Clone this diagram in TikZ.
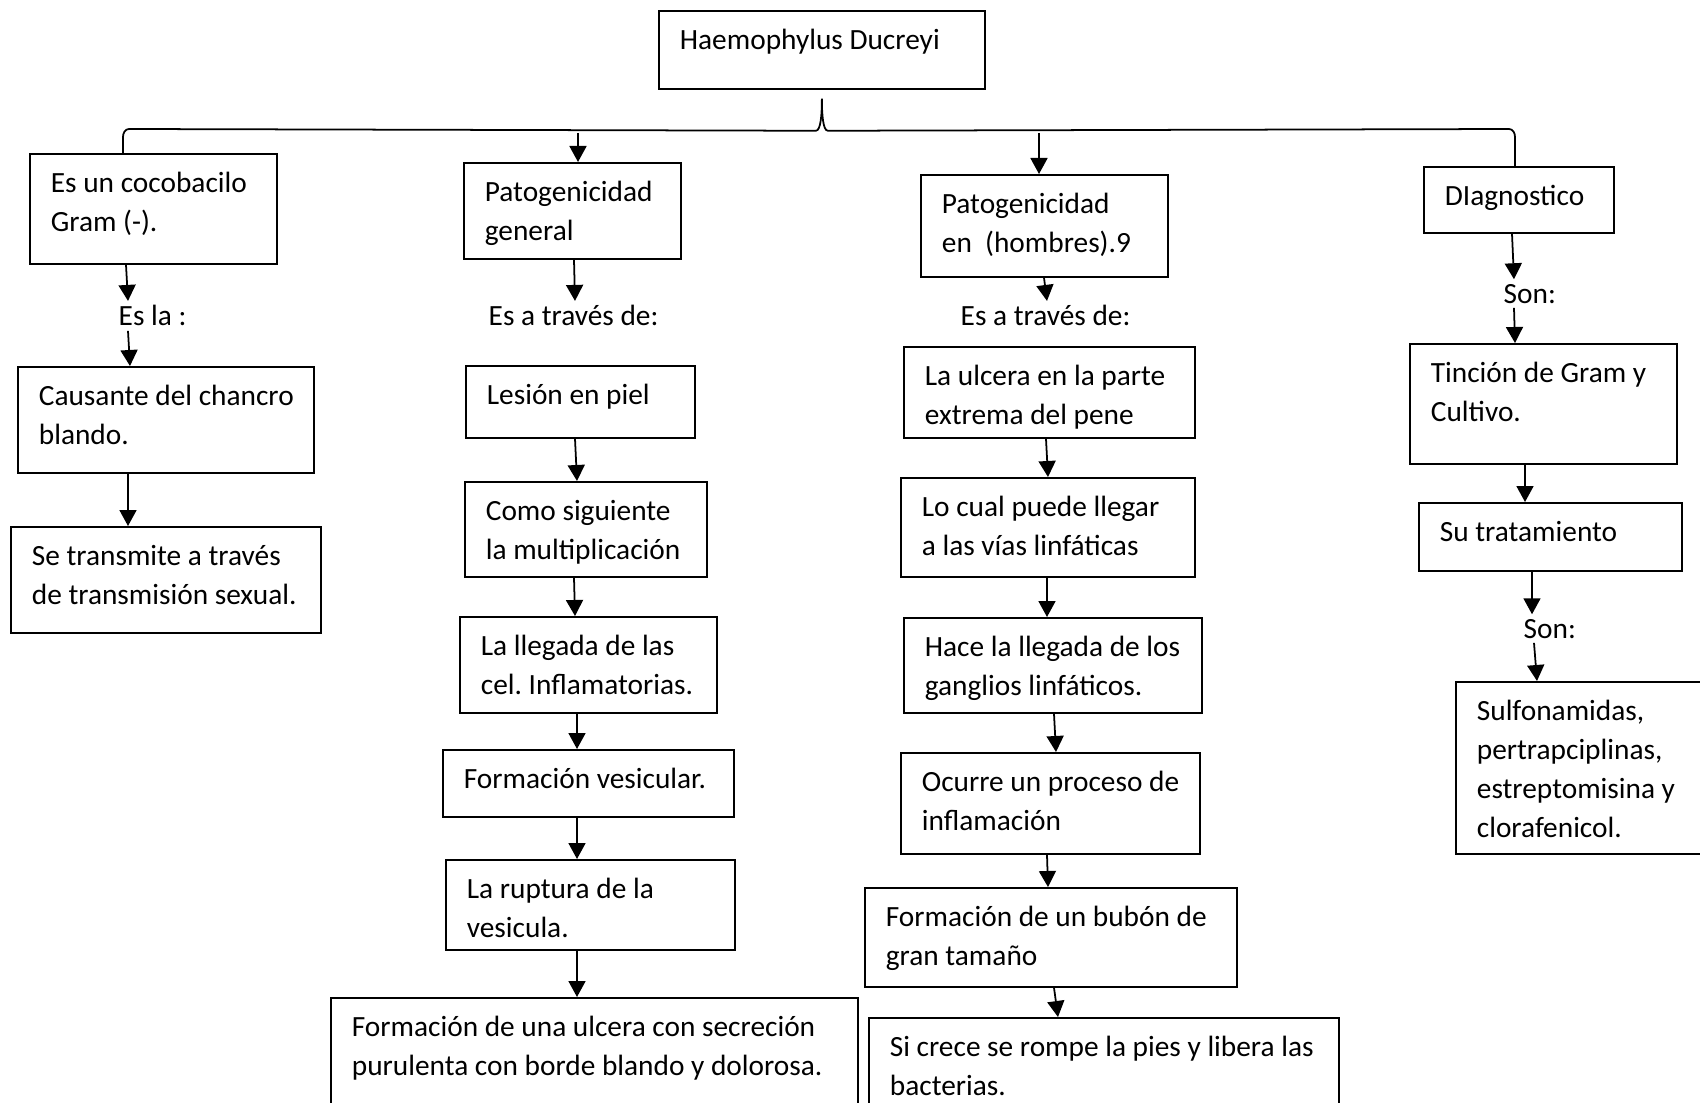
\documentclass[tikz,border=0pt]{standalone}
\usepackage{fontspec}
\setmainfont{Carlito}
\usetikzlibrary{arrows.meta}
\newcommand{\cuerpo}{\fontsize{8.35}{11.1}\selectfont}
\tikzset{
  caja/.style={draw, line width=0.5pt, anchor=north west, inner sep=0pt, align=left,
    text height=0.39cm, font=\cuerpo,
    execute at begin node={\frenchspacing\spaceskip=\fontdimen2\font\leftskip=0.21cm\rightskip=0pt plus 1fil\relax}},
  etiq/.style={anchor=base west, inner xsep=0pt, inner ysep=0.04cm, font=\cuerpo},
  flecha/.style={line width=0.5pt, -{Triangle[width=0.17cm,length=0.16cm]}}
}
\begin{document}
\begin{tikzpicture}
    \useasboundingbox (0,0) rectangle (17,-11.03);
    \clip (0,0) rectangle (17,-11.03);
    \node[caja, text width=3.26cm, text depth=0.39cm] (titulo) at (6.58,-0.10) {Haemophylus Ducreyi};
    % columna 1
    \node[caja, text width=2.47cm, text depth=0.71cm] (b1) at (0.29,-1.53) {Es un cocobacilo\\Gram (-).};
    \node[etiq] (esla) at (1.18,-3.26) {Es la :};
    \node[caja, text width=2.96cm, text depth=0.67cm] (b1b) at (0.17,-3.66) {Causante del chancro\\blando.};
    \node[caja, text width=3.10cm, text depth=0.67cm] (b1c) at (0.10,-5.26) {Se transmite a través\\de transmisión sexual.};
    % columna 2
    \node[caja, text width=2.17cm, text depth=0.57cm] (b2) at (4.63,-1.62) {Patogenicidad\\general};
    \node[etiq] (lbl2) at (4.88,-3.26) {Es a través de:};
    \node[caja, text width=2.29cm, text depth=0.33cm] (b2a) at (4.65,-3.65) {Lesión en piel};
    \node[caja, text width=2.42cm, text depth=0.56cm] (b2b) at (4.64,-4.81) {Como siguiente\\la multiplicación};
    \node[caja, text width=2.57cm, text depth=0.57cm] (b2c) at (4.59,-6.16) {La llegada de las\\cel. Inflamatorias.};
    \node[caja, text width=2.91cm, text depth=0.28cm] (b2d) at (4.42,-7.49) {Formación vesicular.};
    \node[caja, text width=2.89cm, text depth=0.51cm] (b2e) at (4.45,-8.59) {La ruptura de la\\vesicula.};
    \node[caja, text width=5.27cm, text depth=0.94cm] (b2f) at (3.30,-9.97) {Formación de una ulcera con secreción\\purulenta con borde blando y dolorosa.};
    % columna 3
    \node[caja, text width=2.47cm, text depth=0.63cm] (b3) at (9.20,-1.74) {Patogenicidad\\en~~(hombres).9};
    \node[etiq] (lbl3) at (9.60,-3.26) {Es a través de:};
    \node[caja, text width=2.91cm, text depth=0.52cm] (b3a) at (9.03,-3.46) {La ulcera en la parte\\extrema del pene};
    \node[caja, text width=2.94cm, text depth=0.60cm] (b3b) at (9.00,-4.77) {Lo cual puede llegar\\a las vías linfáticas};
    \node[caja, text width=2.98cm, text depth=0.56cm] (b3c) at (9.03,-6.17) {Hace la llegada de los\\ganglios linfáticos.};
    \node[caja, text width=2.99cm, text depth=0.62cm] (b3d) at (9.00,-7.52) {Ocurre un proceso de\\inflamación};
    \node[caja, text width=3.72cm, text depth=0.60cm] (b3e) at (8.64,-8.87) {Formación de un bubón de\\gran tamaño};
    \node[caja, text width=4.70cm, text depth=0.74cm] (b3f) at (8.68,-10.17) {Si crece se rompe la pies y libera las\\bacterias.};
    % columna 4
    \node[caja, text width=1.90cm, text depth=0.27cm] (b4) at (14.23,-1.66) {DIagnostico};
    \node[etiq] (son1) at (15.03,-3.03) {Son:};
    \node[caja, text width=2.67cm, text depth=0.81cm] (b4a) at (14.09,-3.43) {Tinción de Gram y\\Cultivo.};
    \node[caja, text width=2.63cm, text depth=0.29cm] (b4b) at (14.18,-5.02) {Su tratamiento};
    \node[etiq] (son2) at (15.23,-6.38) {Son:};
    \node[caja, text width=3.00cm, text depth=1.33cm] (b4c) at (14.55,-6.81) {Sulfonamidas,\\pertrapciplinas,\\estreptomisina y\\clorafenicol.};
    % llave
    \coordinate (punta) at ([yshift=-0.09cm]titulo.south);
    \draw[line width=0.5pt] ([xshift=0.94cm]b1.north west) -- ++(0,0.16) to[out=90,in=180] ++(0.06,0.08)
      -- ([xshift=-0.06cm,yshift=-0.32cm]punta)
      .. controls ([xshift=-0.01cm,yshift=-0.32cm]punta) and ([yshift=-0.15cm]punta) .. (punta)
      .. controls ([yshift=-0.15cm]punta) and ([xshift=0.01cm,yshift=-0.32cm]punta) .. ([xshift=0.06cm,yshift=-0.32cm]punta)
      -- ([xshift=0.86cm,yshift=0.37cm]b4.north west) to[out=0,in=90] ++(0.06,-0.08) -- ([xshift=0.92cm]b4.north west);
    \coordinate (r2) at (5.78,-1.33);
    \coordinate (r3) at (10.39,-1.33);
    \draw[flecha] (r2) -- (r2 |- b2.north);
    \draw[flecha] (r3) -- (r3 |- b3.north);
    % flechas
    \draw[flecha] ([xshift=0.97cm]b1.south west) -- ([xshift=0.10cm]esla.north west);
    \draw[flecha] ([xshift=0.10cm]esla.south west) -- ([xshift=1.13cm]b1b.north west);
    \draw[flecha] ([xshift=1.11cm]b1b.south west) -- ([xshift=1.18cm]b1c.north west);
    \draw[flecha] ([xshift=1.11cm]b2.south west) -- ([xshift=0.87cm]lbl2.north west);
    \draw[flecha] ([xshift=1.10cm]b2a.south west) -- ([xshift=1.13cm]b2b.north west);
    \draw[flecha] ([xshift=1.10cm]b2b.south west) -- ([xshift=1.16cm]b2c.north west);
    \draw[flecha] ([xshift=1.18cm]b2c.south west) -- ([xshift=1.35cm]b2d.north west);
    \draw[flecha] ([xshift=1.35cm]b2d.south west) -- ([xshift=1.32cm]b2e.north west);
    \draw[flecha] ([xshift=1.32cm]b2e.south west) -- ([xshift=2.47cm]b2f.north west);
    \draw[flecha] ([xshift=1.24cm]b3.south west) -- ([xshift=0.87cm]lbl3.north west);
    \draw[flecha] ([xshift=1.43cm]b3a.south west) -- ([xshift=1.48cm]b3b.north west);
    \draw[flecha] ([xshift=1.47cm]b3b.south west) -- ([xshift=1.44cm]b3c.north west);
    \draw[flecha] ([xshift=1.51cm]b3c.south west) -- ([xshift=1.56cm]b3d.north west);
    \draw[flecha] ([xshift=1.47cm]b3d.south west) -- ([xshift=1.84cm]b3e.north west);
    \draw[flecha] ([xshift=1.90cm]b3e.south west) -- ([xshift=1.90cm]b3f.north west);
    \draw[flecha] ([xshift=0.89cm]b4.south west) -- ([xshift=0.11cm]son1.north west);
    \draw[flecha] ([xshift=0.11cm]son1.south west) -- ([xshift=1.06cm]b4a.north west);
    \draw[flecha] ([xshift=1.16cm]b4a.south west) -- ([xshift=1.07cm]b4b.north west);
    \draw[flecha] ([xshift=1.14cm]b4b.south west) -- ([xshift=0.09cm]son2.north west);
    \draw[flecha] ([xshift=0.11cm]son2.south west) -- ([xshift=0.82cm]b4c.north west);
\end{tikzpicture}
\end{document}
